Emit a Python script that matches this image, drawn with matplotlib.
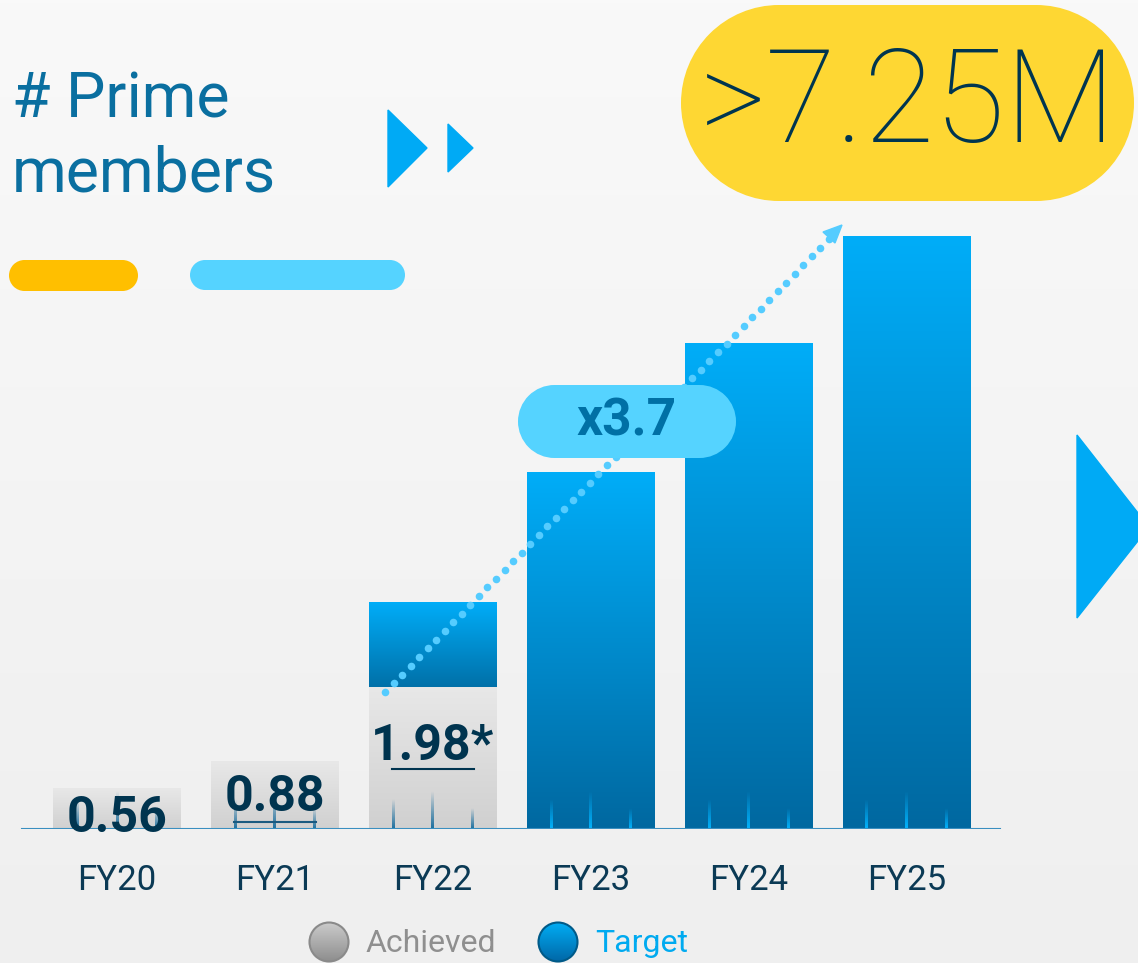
import numpy as np
import matplotlib.pyplot as plt
from matplotlib.patches import Rectangle, Polygon, Circle
from matplotlib.colors import LinearSegmentedColormap

plt.rcParams['font.family'] = ['Roboto', 'DejaVu Sans']

# data (bar heights in millions, as drawn)
categories = ['FY20', 'FY21', 'FY22', 'FY23', 'FY24', 'FY25']
achieved = [0.50, 0.83, 1.74, 0, 0, 0]
target = [0, 0, 2.77, 4.36, 5.94, 7.25]
achieved_labels = ['0.56', '0.88', '1.98*']
growth_label = 'x3.7'
goal_label = '>7.25M'
legend_labels = ['Achieved', 'Target']

W, H = 1138, 963
fig = plt.figure(figsize=(W / 100, H / 100), dpi=100)

grad = np.linspace(0, 1, 256).reshape(-1, 1)


def cmap(c1, c2):
    return LinearSegmentedColormap.from_list('g', [c1, c2])


# background
bg = fig.add_axes([0, 0, 1, 1], zorder=0)
bg.imshow(grad, cmap=cmap('#f9f9f9', '#efefef'), extent=(0, 1, 0, 1), aspect='auto')
bg.axis('off')

# main bar axes: baseline at 829 px, 81.7 px per million, bars 157.9 px apart
base, ppm, x0, step = 829, 81.7, 117, 157.9
ax = fig.add_axes([0, (H - base) / H, 1, base / H], zorder=1)
ax.patch.set_alpha(0)
bw = 0.81


def grad_bar(x, y0, y1, ctop, cbot):
    ax.imshow(grad, cmap=cmap(ctop, cbot), extent=(x - bw / 2, x + bw / 2, y0, y1),
              aspect='auto', zorder=2)


def inner_ticks(x, color):
    rgba = np.zeros((64, 1, 4))
    rgba[..., :3] = np.array([int(color[i:i + 2], 16) / 255 for i in (1, 3, 5)])
    rgba[:, 0, 3] = np.linspace(0, 1, 64)
    for off, h in zip([-0.31, 0.0, 0.31], [30, 38, 21]):
        ax.imshow(rgba, extent=(x + off * bw - 0.009, x + off * bw + 0.009, 0, h / ppm),
                  aspect='auto', zorder=3)


for i, cat in enumerate(categories):
    if achieved[i] > 0:
        grad_bar(i, 0, achieved[i], '#e8e8e8', '#d0d0d0')
        inner_ticks(i, '#1b6f9f')
    if target[i] > 0:
        lo = achieved[i]
        grad_bar(i, lo, target[i], '#00adf8', '#0068a0' if lo == 0 else '#0070a8')
        if lo == 0:
            inner_ticks(i, '#00b4ff')
    ax.text(i, (base - 880) / ppm, cat, ha='center', va='center', fontsize=25,
            color='#0b3a55')

ax.plot([(22 - x0) / step, (1000 - x0) / step], [0, 0], color='#3a8fc0', lw=1.5, zorder=4)

label_y = [(base - 818) / ppm, (base - 797) / ppm, (base - 746) / ppm]
for i, lab in enumerate(achieved_labels):
    ax.text(i, label_y[i], lab, ha='center', va='center', fontsize=36,
            fontweight='bold', color='#00344f', zorder=5)
# underlines
ax.plot([1 - 0.26, 1 + 0.26], [(base - 822) / ppm] * 2, color='#1a5a80', lw=1.5, zorder=5)
ax.plot([2 - 0.26, 2 + 0.26], [(base - 769) / ppm] * 2, color='#00344f', lw=1.5, zorder=5)

ax.set_xlim(-x0 / step, (W - x0) / step)
ax.set_ylim(0, base / ppm)
ax.axis('off')

# overlay in pixel coordinates
ov = fig.add_axes([0, 0, 1, 1], zorder=3)
ov.patch.set_alpha(0)

ov.text(12, 117, '# Prime', fontsize=45, color='#0a6fa0', va='baseline')
ov.text(12, 192, 'members', fontsize=45, color='#0a6fa0', va='baseline')
ov.add_patch(Polygon([(388, 110), (427, 148), (388, 187)], color='#00aaf5'))
ov.add_patch(Polygon([(448, 124), (473, 148), (448, 172)], color='#00aaf5'))


def pill(x1, y1, x2, y2, color):
    r = (y2 - y1) / 2
    ov.add_patch(Rectangle((x1 + r, y1), x2 - x1 - 2 * r, 2 * r, fc=color, ec='none', zorder=4))
    ov.add_patch(Circle((x1 + r, y1 + r), r, fc=color, ec='none', zorder=4))
    ov.add_patch(Circle((x2 - r, y1 + r), r, fc=color, ec='none', zorder=4))


pill(9, 260, 138, 291, '#ffbf00')
pill(190, 260, 405, 290, '#55d3ff')

pill(681, 5, 1134, 201, '#fed733')
ov.text(908, 106, goal_label, ha='center', va='center', fontsize=93,
        fontweight='light', color='#003550', zorder=5)

# dotted arrow
sx, sy, ex, ey = 385, 692, 829, 239
n = int(np.hypot(ex - sx, ey - sy) / 12)
ov.scatter(np.linspace(sx, ex, n + 1), np.linspace(sy, ey, n + 1), s=30,
           color='#55ccff', lw=0, zorder=3)
ov.add_patch(Polygon([(823, 232), (842, 225), (835, 243)], color='#55ccff', zorder=3))

pill(518, 385, 736, 458, '#55d3ff')
ov.text(627, 422, growth_label, ha='center', va='center', fontsize=37,
        fontweight='bold', color='#0070a5', zorder=5)

ov.add_patch(Polygon([(1077, 435), (1149, 527), (1077, 618)], color='#00aaf5'))

# legend
for cx, c1, c2, ec, lab, tc in [(329, '#cccccc', '#8e8e8e', '#8a8a8a', legend_labels[0], '#8f8f8f'),
                                (558, '#00aef5', '#0068a8', '#005a88', legend_labels[1], '#00aaf0')]:
    r = 19.5
    im = ov.imshow(grad, cmap=cmap(c1, c2), extent=(cx - r, cx + r, 942 + r, 942 - r),
                   aspect='auto', zorder=4)
    circ = Circle((cx, 942), r, fc='none', ec=ec, lw=1.5, zorder=5)
    ov.add_patch(circ)
    im.set_clip_path(circ)
    ov.text(cx + 37, 943, lab, fontsize=23, color=tc, va='center', ha='left')

ov.set_xlim(0, W)
ov.set_ylim(H, 0)
ov.axis('off')

fig.savefig('out.png', dpi=100)
